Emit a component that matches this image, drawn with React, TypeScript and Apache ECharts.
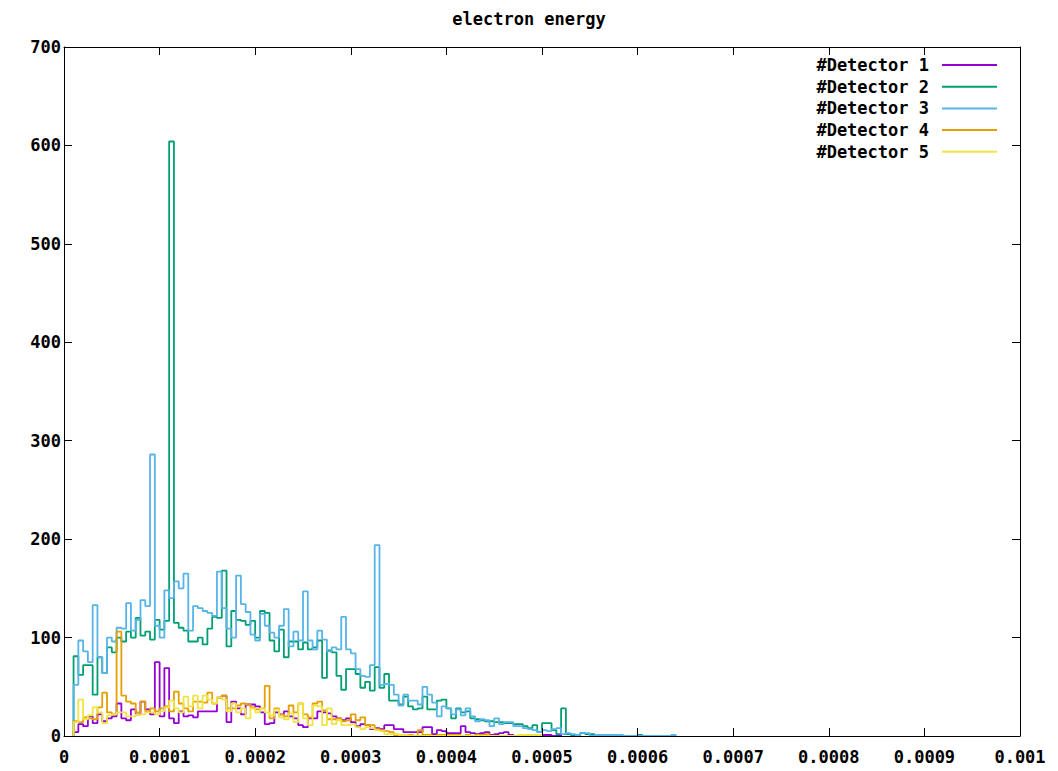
import React, { useEffect, useRef } from "react";
import * as echarts from "echarts";

const BIN_WIDTH = 0.000005;
const X_TICKS = ["0", "0.0001", "0.0002", "0.0003", "0.0004", "0.0005", "0.0006", "0.0007", "0.0008", "0.0009", "0.001"];
const Y_TICKS = ["0", "100", "200", "300", "400", "500", "600", "700"];
const SERIES_NAMES = ["#Detector 1", "#Detector 2", "#Detector 3", "#Detector 4", "#Detector 5"];
const COLORS = ["#9400d3", "#009e73", "#56b4e9", "#e69f00", "#f0e442"];

// counts per bin (bin i spans i*BIN_WIDTH .. (i+1)*BIN_WIDTH)
const DETECTOR_1 = [
  0, 0, 4, 12, 10, 20, 13, 22, 15, 18,
  20, 33, 18, 16, 27, 22, 35, 27, 22, 75,
  20, 69, 18, 13, 25, 20, 21, 19, 25, 25,
  25, 25, 39, 41, 14, 35, 28, 22, 32, 32,
  30, 24, 12, 13, 24, 22, 25, 20, 18, 11,
  9, 18, 18, 25, 24, 23, 20, 18, 16, 18,
  14, 10, 12, 11, 7, 8, 7, 11, 11, 7,
  7, 4, 4, 4, 4, 9, 9, 2, 6, 5,
  3, 3, 3, 10, 4, 3, 2, 3, 4, 1,
  2, 3, 4, 1, 0, 0, 0, 1, 1, 0,
  1, 1, 0, 1,
];
const DETECTOR_2 = [
  0, 0, 81, 62, 72, 72, 42, 80, 64, 90,
  85, 100, 96, 106, 100, 120, 102, 106, 98, 118,
  108, 117, 604, 115, 110, 107, 96, 96, 100, 93,
  109, 121, 120, 168, 91, 127, 118, 117, 113, 117,
  100, 127, 125, 97, 86, 108, 80, 96, 96, 88,
  95, 88, 90, 97, 59, 87, 85, 61, 47, 68,
  68, 63, 49, 55, 46, 70, 49, 63, 36, 36,
  32, 40, 30, 27, 28, 40, 27, 27, 36, 37,
  28, 18, 28, 24, 25, 18, 17, 16, 15, 15,
  14, 14, 13, 13, 12, 12, 10, 8, 11, 4,
  13, 13, 6, 2, 28, 2, 1, 0, 3, 2,
  2, 0, 0, 1, 1, 0, 0, 0, 0, 0,
  1,
];
const DETECTOR_3 = [
  0, 0, 52, 97, 86, 75, 133, 80, 64, 100,
  96, 110, 109, 135, 107, 118, 138, 132, 286, 112,
  100, 148, 140, 157, 150, 165, 107, 132, 130, 127,
  125, 122, 167, 130, 109, 100, 163, 134, 126, 103,
  97, 124, 112, 105, 100, 112, 129, 91, 106, 97,
  147, 97, 88, 107, 98, 86, 90, 88, 121, 88,
  84, 68, 61, 60, 72, 194, 52, 53, 52, 42,
  31, 42, 36, 36, 32, 50, 42, 34, 20, 30,
  28, 22, 27, 21, 28, 20, 15, 17, 16, 10,
  18, 12, 14, 14, 10, 10, 8, 7, 6, 4,
  6, 5, 7, 8, 2, 3, 2, 1, 3, 3,
  0, 1, 1, 1, 1, 1, 1, 0, 0, 0,
  0, 0, 0, 0, 0, 0, 0, 1,
];
const DETECTOR_4 = [
  0, 0, 15, 14, 19, 18, 17, 29, 44, 24,
  22, 106, 41, 35, 33, 24, 35, 25, 28, 25,
  28, 30, 25, 45, 33, 28, 25, 35, 35, 34,
  44, 33, 39, 41, 28, 28, 31, 33, 32, 29,
  27, 28, 51, 18, 28, 22, 20, 31, 24, 33,
  22, 19, 33, 35, 26, 17, 17, 18, 15, 16,
  22, 16, 19, 11, 11, 7, 6, 5, 4, 1,
  1, 1, 1, 0, 6, 1, 1, 0, 1, 1,
  1, 1, 1, 0, 1, 0, 1, 1, 2,
];
const DETECTOR_5 = [
  0, 0, 14, 37, 17, 21, 29, 24, 13, 21,
  22, 24, 24, 20, 20, 22, 22, 24, 24, 22,
  25, 29, 36, 28, 24, 40, 30, 41, 28, 41,
  37, 33, 39, 37, 25, 33, 24, 28, 18, 28,
  24, 28, 24, 21, 27, 19, 17, 23, 14, 33,
  18, 11, 31, 30, 11, 28, 12, 16, 11, 11,
  12, 9, 7, 9, 8, 6, 5, 2, 2, 2,
  1, 1, 0, 0, 0, 0, 0, 0, 0, 0,
  0, 0, 0, 0, 0, 0, 0, 0, 0, 0,
  0, 0, 0, 0, 0, 1, 1, 1, 1, 1,
];
const DETECTORS = [DETECTOR_1, DETECTOR_2, DETECTOR_3, DETECTOR_4, DETECTOR_5];

function toSteps(values: number[]): number[][] {
  const first = Math.max(0, values.findIndex((v) => v > 0));
  let last = values.length - 1;
  while (last > first && values[last] === 0) last--;
  const pts: number[][] = [[first * BIN_WIDTH, 0]];
  for (let i = first; i <= last; i++) pts.push([i * BIN_WIDTH, values[i]]);
  pts.push([(last + 1) * BIN_WIDTH, values[last]]);
  pts.push([(last + 1) * BIN_WIDTH, 0]);
  return pts;
}

const FONT = "DejaVu Sans Mono";

export default function App() {
  const ref = useRef<HTMLDivElement>(null);
  useEffect(() => {
    if (!ref.current) return;
    const chart = echarts.init(ref.current, null, { renderer: "svg" });
    const axisLine = { show: true, onZero: false, lineStyle: { color: "#000", width: 1 } };
    const tick = { show: true, inside: true, length: 8, lineStyle: { color: "#000", width: 1 } };
    const labelStyle = { color: "#000", fontFamily: FONT, fontWeight: "bold" as const, fontSize: 17 };
    chart.setOption({
      animation: false,
      backgroundColor: "#fff",
      title: {
        text: "electron energy",
        left: "center",
        top: 5,
        textStyle: { ...labelStyle },
      },
      legend: {
        orient: "vertical",
        right: 56,
        top: 50,
        align: "right",
        icon: "rect",
        itemWidth: 55,
        itemHeight: 2,
        itemGap: 1.7,
        data: SERIES_NAMES,
        textStyle: { ...labelStyle, lineHeight: 20, padding: [0, 8, 0, 0] },
      },
      grid: { left: 64, right: 38, top: 47, bottom: 35, containLabel: false },
      xAxis: [
        {
          type: "value",
          min: 0,
          max: 0.001,
          interval: 0.0001,
          position: "bottom",
          z: 10,
          axisLine,
          axisTick: tick,
          splitLine: { show: false },
          axisLabel: {
            ...labelStyle,
            margin: 12,
            formatter: (v: number) => X_TICKS[Math.round(v / 0.0001)] ?? "",
          },
        },
        {
          type: "value",
          min: 0,
          max: 0.001,
          interval: 0.0001,
          position: "top",
          z: 10,
          axisLine,
          axisTick: tick,
          splitLine: { show: false },
          axisLabel: { show: false },
        },
      ],
      yAxis: [
        {
          type: "value",
          min: 0,
          max: 700,
          interval: 100,
          position: "left",
          z: 10,
          axisLine,
          axisTick: tick,
          splitLine: { show: false },
          axisLabel: {
            ...labelStyle,
            margin: 3,
            formatter: (v: number) => Y_TICKS[Math.round(v / 100)] ?? "",
          },
        },
        {
          type: "value",
          min: 0,
          max: 700,
          interval: 100,
          position: "right",
          z: 10,
          axisLine,
          axisTick: tick,
          splitLine: { show: false },
          axisLabel: { show: false },
        },
      ],
      series: DETECTORS.map((vals, k) => ({
        name: SERIES_NAMES[k],
        type: "line",
        xAxisIndex: 0,
        yAxisIndex: 0,
        step: "end",
        showSymbol: false,
        symbol: "none",
        color: COLORS[k],
        lineStyle: { color: COLORS[k], width: 1.8 },
        data: toSteps(vals),
      })),
    });
    return () => chart.dispose();
  }, []);
  return (
    <div
      ref={ref}
      style={{ position: "fixed", left: 0, top: 0, width: 1058, height: 771, background: "#fff" }}
    />
  );
}
